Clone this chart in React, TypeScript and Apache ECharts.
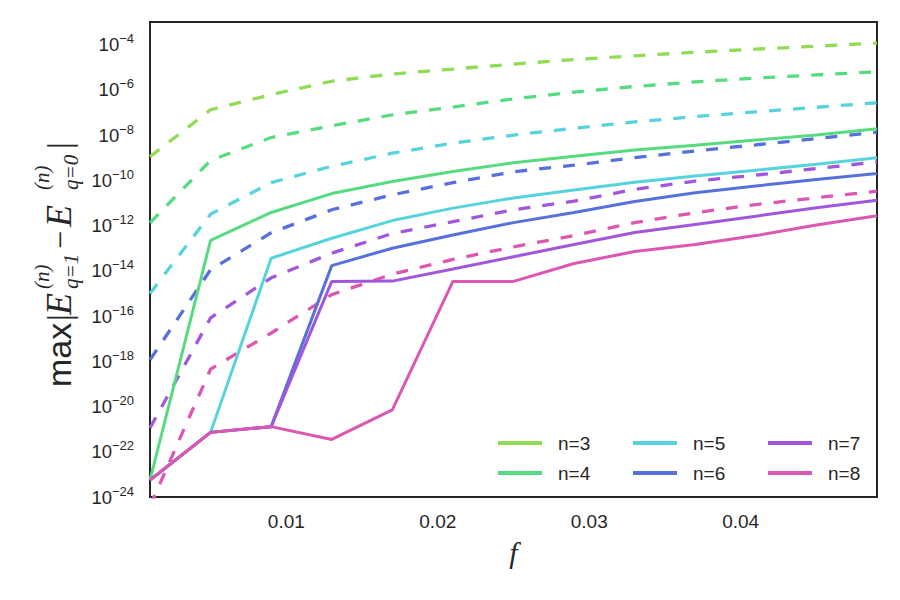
import React, { useEffect, useRef } from "react";
import * as echarts from "echarts";

// f values (x axis)
const fValues = [0.001, 0.005, 0.009, 0.013, 0.017, 0.021, 0.025, 0.029, 0.033, 0.037, 0.041, 0.045, 0.049];

// solid lines
const solidN3: (number | null)[] = [null, null, null, null, null, null, null, null, null, null, null, null, null];
const solidN4 = [5.6e-24, 2.2e-13, 3.8e-12, 2.6e-11, 8.9e-11, 2.45e-10, 6.0e-10, 1.17e-9, 2.2e-9, 3.6e-9, 6.0e-9, 1.0e-8, 1.9e-8];
const solidN5 = [5.6e-24, 7.2e-22, 3.6e-14, 2.75e-13, 1.66e-12, 5.9e-12, 1.66e-11, 3.7e-11, 8.3e-11, 1.55e-10, 2.8e-10, 5.1e-10, 1.0e-9];
const solidN6 = [5.6e-24, 7.2e-22, 1.29e-21, 1.7e-14, 1.0e-13, 3.8e-13, 1.35e-12, 3.8e-12, 1.15e-11, 2.8e-11, 5.6e-11, 1.1e-10, 2.0e-10];
const solidN7 = [5.6e-24, 7.2e-22, 1.29e-21, 3.4e-15, 3.5e-15, 1.2e-14, 4.2e-14, 1.45e-13, 4.9e-13, 1.12e-12, 2.6e-12, 6.2e-12, 1.32e-11];
const solidN8 = [5.6e-24, 7.2e-22, 1.29e-21, 3.5e-22, 7.1e-21, 3.4e-15, 3.4e-15, 2.1e-14, 7.1e-14, 1.45e-13, 3.6e-13, 1.07e-12, 2.7e-12];

// dashed lines
const dashedN3 = [1.1e-9, 1.32e-7, 6.2e-7, 2.4e-6, 5.0e-6, 8.3e-6, 1.38e-5, 2.2e-5, 3.2e-5, 4.6e-5, 6.3e-5, 8.5e-5, 1.17e-4];
const dashedN4 = [1.32e-12, 7.6e-10, 7.8e-9, 2.6e-8, 7.9e-8, 1.74e-7, 4.0e-7, 7.9e-7, 1.41e-6, 2.24e-6, 3.3e-6, 4.6e-6, 6.3e-6];
const dashedN5 = [1.0e-15, 3.2e-12, 7.9e-11, 4.2e-10, 1.58e-9, 4.4e-9, 1.0e-8, 2.0e-8, 3.8e-8, 6.6e-8, 1.07e-7, 1.7e-7, 2.7e-7];
const dashedN6 = [1.15e-18, 1.12e-14, 4.8e-13, 5.0e-12, 2.3e-11, 7.9e-11, 2.4e-10, 4.7e-10, 1.0e-9, 2.0e-9, 3.7e-9, 7.1e-9, 1.35e-8];
const dashedN7 = [1.12e-21, 8.3e-17, 4.9e-15, 6.0e-14, 4.5e-13, 1.48e-12, 5.0e-12, 1.2e-11, 4.0e-11, 9.3e-11, 1.7e-10, 3.3e-10, 6.5e-10];
const dashedN8 = [4.0e-25, 4.5e-19, 1.78e-17, 8.9e-16, 7.1e-15, 3.2e-14, 1.15e-13, 3.6e-13, 1.35e-12, 3.7e-12, 8.5e-12, 1.7e-11, 3.3e-11];

const names = ["n=3", "n=4", "n=5", "n=6", "n=7", "n=8"];
const colors = ["#91db57", "#57db80", "#57d3db", "#5770db", "#a157db", "#db57b2"];
const solids = [solidN3, solidN4, solidN5, solidN6, solidN7, solidN8];
const dashes = [dashedN3, dashedN4, dashedN5, dashedN6, dashedN7, dashedN8];

const xTicks = [0.01, 0.02, 0.03, 0.04];
// decades shown on the y axis (powers of ten)
const yDecadeMin = -24;
const yDecadeMax = -3;

const TEXT = "#262626";

export default function App() {
  const ref = useRef<HTMLDivElement>(null);
  useEffect(() => {
    if (!ref.current) return;
    const chart = echarts.init(ref.current, undefined, { renderer: "svg" });
    // the y axis is a log10 scale: plot the exponent of each value
    const pairs = (arr: (number | null)[]) =>
      fValues.map((x, i) => [x, arr[i] == null ? "-" : Math.log10(arr[i] as number)]);
    const series: any[] = [];
    dashes.forEach((d, i) => {
      series.push({
        name: names[i] + " (dashed)",
        type: "line",
        data: pairs(d),
        showSymbol: false,
        color: colors[i],
        lineStyle: { width: 3.3, type: [12, 12], color: colors[i] },
        z: 2,
      });
    });
    solids.forEach((s, i) => {
      series.push({
        name: names[i],
        type: "line",
        data: pairs(s),
        showSymbol: false,
        color: colors[i],
        lineStyle: { width: 3, color: colors[i] },
        z: 3,
      });
    });
    const legendBase = {
      orient: "vertical",
      icon: "rect",
      itemWidth: 44,
      itemHeight: 4,
      itemGap: 10,
      top: 428,
      textStyle: { fontSize: 19, color: TEXT, fontFamily: "Liberation Sans", lineHeight: 20, padding: [0, 0, 0, 11] },
    };
    const yName = {
      type: "group",
      x: 71,
      y: 390,
      rotation: Math.PI / 2,
      children: [
        { type: "text", x: 3, y: -12, style: { text: "max", font: "34px 'Liberation Sans'", fill: TEXT, verticalAlign: "middle" } },
        { type: "text", x: 69, y: -12, style: { text: "|", font: "34px 'Liberation Serif'", fill: TEXT, verticalAlign: "middle" } },
        { type: "text", x: 75, y: -12, style: { text: "E", font: "italic 36px 'Liberation Serif'", fill: TEXT, verticalAlign: "middle" } },
        { type: "text", x: 101, y: -29, style: { text: "(n)", font: "italic 21px 'Liberation Serif'", fill: TEXT, verticalAlign: "middle" } },
        { type: "text", x: 101, y: 0, style: { text: "q=1", font: "italic 21px 'Liberation Serif'", fill: TEXT, verticalAlign: "middle" } },
        { type: "text", x: 141, y: -11, style: { text: "\u2212", font: "32px 'Liberation Serif'", fill: TEXT, verticalAlign: "middle" } },
        { type: "text", x: 163, y: -12, style: { text: "E", font: "italic 36px 'Liberation Serif'", fill: TEXT, verticalAlign: "middle" } },
        { type: "text", x: 200, y: -29, style: { text: "(n)", font: "italic 21px 'Liberation Serif'", fill: TEXT, verticalAlign: "middle" } },
        { type: "text", x: 200, y: 0, style: { text: "q=0", font: "italic 21px 'Liberation Serif'", fill: TEXT, verticalAlign: "middle" } },
        { type: "text", x: 241, y: -12, style: { text: "|", font: "34px 'Liberation Serif'", fill: TEXT, verticalAlign: "middle" } },
      ],
    };
    chart.setOption({
      animation: false,
      backgroundColor: "#ffffff",
      grid: { left: 150, right: 23, top: 22, bottom: 103, show: true, borderColor: TEXT, borderWidth: 2, backgroundColor: "transparent" },
      xAxis: {
        type: "value",
        min: 0.001,
        max: 0.049,
        axisLine: { show: false },
        axisTick: { show: false },
        splitLine: { show: false },
        axisLabel: {
          customValues: xTicks,
          formatter: (v: number) => v.toFixed(2),
          fontSize: 19,
          color: TEXT,
          fontFamily: "Liberation Sans",
          margin: 15,
        },
        name: "f",
        nameLocation: "middle",
        nameGap: 40,
        nameTextStyle: { fontSize: 30, fontStyle: "italic", fontFamily: "Liberation Serif", color: TEXT, verticalAlign: "top" },
      },
      yAxis: {
        type: "value",
        min: yDecadeMin,
        max: yDecadeMax,
        interval: 2,
        axisLine: { show: false },
        axisTick: { show: false },
        splitLine: { show: false },
        axisLabel: {
          margin: 16,
          showMaxLabel: false,
          formatter: (v: number) => {
            const e = Math.round(v);
            if (e % 2 !== 0) return "";
            return `{a|10}{b|${e < 0 ? "\u2212" : ""}${Math.abs(e)}}`;
          },
          rich: {
            a: { fontSize: 18.5, color: TEXT, fontFamily: "Liberation Sans", verticalAlign: "middle" },
            b: { fontSize: 13, color: TEXT, fontFamily: "Liberation Sans", verticalAlign: "middle", padding: [0, 0, 12, 0] },
          },
        },
      },
      legend: [
        { ...legendBase, left: 493, data: ["n=3", "n=4"] },
        { ...legendBase, left: 628, data: ["n=5", "n=6"] },
        { ...legendBase, left: 763, data: ["n=7", "n=8"] },
      ],
      graphic: [yName],
      series,
    });
    return () => chart.dispose();
  }, []);
  return <div ref={ref} style={{ width: 900, height: 600, margin: -8 }} />;
}
